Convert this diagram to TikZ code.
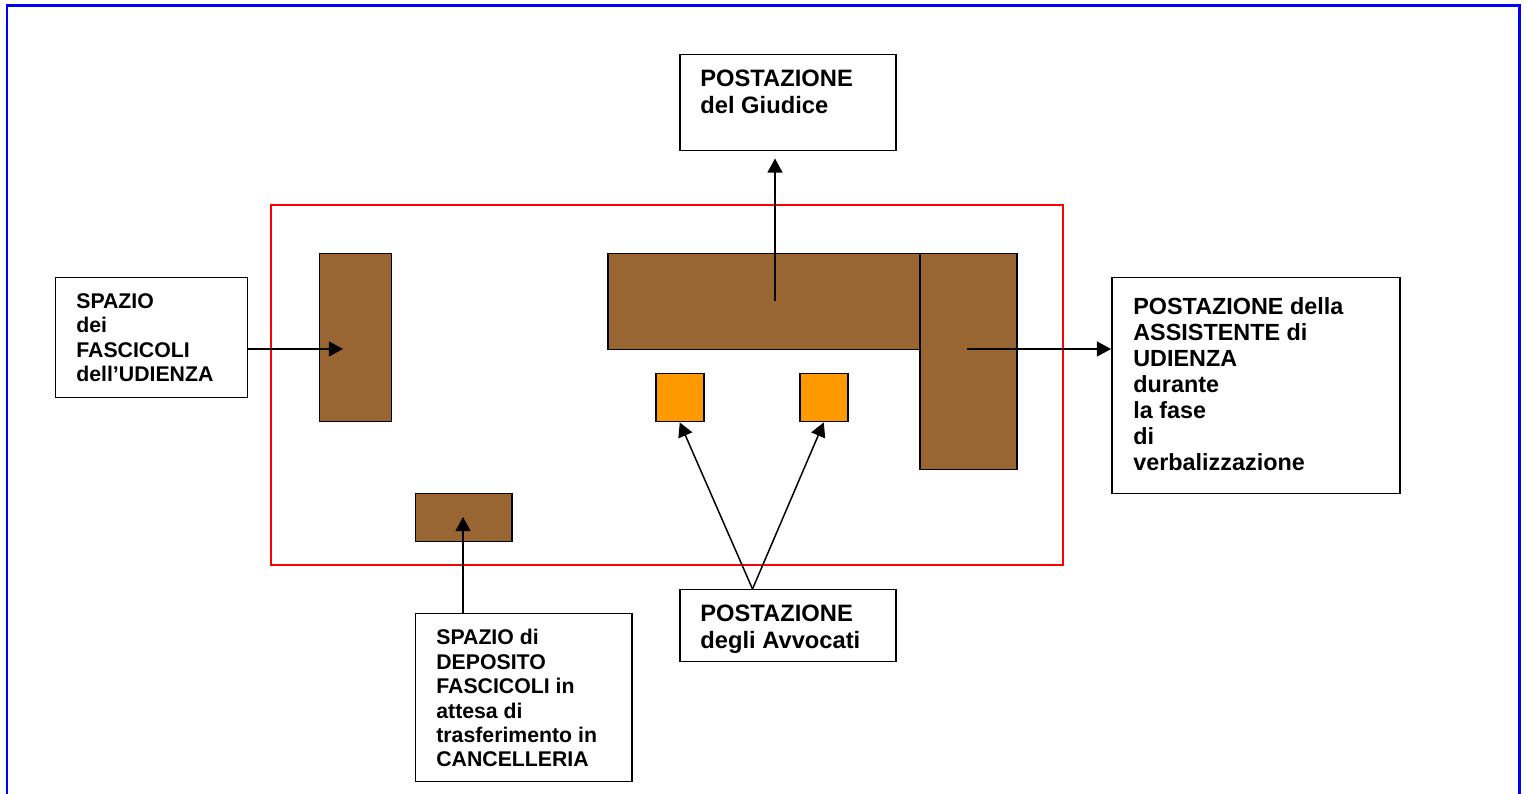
\documentclass[tikz,border=0pt]{standalone}
\usepackage{fontspec}
\setmainfont{Liberation Sans}
\usepackage{xcolor}
\usepackage{tikz}
\usetikzlibrary{positioning}
\usetikzlibrary{arrows.meta}
\definecolor{deskbrown}{RGB}{153,102,51}
\definecolor{seatorange}{RGB}{255,153,0}

\begin{document}
\begin{tikzpicture}
  [
    desk/.style={
       draw=black,
       fill=deskbrown,
       line width=0.85pt,
       inner sep=0pt,
       anchor=north west
    },
    seat/.style={
       draw=black,
       fill=seatorange,
       line width=0.85pt,
       inner sep=0pt,
       anchor=north west,
       minimum width=0.96cm,
       minimum height=0.96cm
    },
    lbl/.style={
       draw=black,
       fill=white,
       line width=0.85pt,
       inner sep=0pt,
       anchor=north west
    },
    txt/.style={
       inner sep=0pt,
       anchor=north west,
       align=left,
       font=\bfseries\fontsize{12.1pt}{13.9pt}\selectfont
    },
    big/.style={
       font=\bfseries\fontsize{13.5pt}{15.4pt}\selectfont
    },
    ld/.style={
       draw=black,
       line width=0.85pt,
       -{Triangle[length=8pt,width=8.5pt]}
    }
  ]
  \useasboundingbox (0,0) rectangle (30.54,15.88);

  % frame and room
  \draw [blue, line width=1.7pt] (0.14,-0.5) |- (30.38,15.76) -- (30.38,-0.5);
  \draw [red, line width=0.85pt] (5.42,4.58) rectangle (21.26,11.78);

  % furniture
  \node (deskL)   at ( 6.38,10.82) [desk, minimum width=1.44cm, minimum height=3.36cm] {};
  \node (deskTop) at (12.14,10.82) [desk, minimum width=6.26cm, minimum height=1.92cm] {};
  \node (deskR)   at (18.38,10.82) [desk, minimum width=1.94cm, minimum height=4.32cm] {};
  \node (deskS)   at ( 8.30, 6.02) [desk, minimum width=1.92cm, minimum height=0.96cm] {};
  \node (seatA)   at (13.10, 8.42) [seat] {};
  \node (seatB)   at (15.98, 8.42) [seat] {};

  % label boxes
  \node (giudice)    at (13.58,14.80) [lbl, minimum width=4.32cm, minimum height=1.92cm] {};
  \node (fascicoli)  at ( 1.10,10.34) [lbl, minimum width=3.84cm, minimum height=2.40cm] {};
  \node (assistente) at (22.22,10.34) [lbl, minimum width=5.76cm, minimum height=4.32cm] {};
  \node (deposito)   at ( 8.30, 3.62) [lbl, minimum width=4.32cm, minimum height=3.36cm] {};
  \node (avvocati)   at (13.58, 4.10) [lbl, minimum width=4.32cm, minimum height=1.44cm] {};

  \node (giudiceT)    at (14.00,14.48) [txt, big] {POSTAZIONE\\del Giudice};
  \node (fascicoliT)  at ( 1.52,10.02) [txt] {SPAZIO\\dei\\FASCICOLI\\dell’UDIENZA};
  \node (assistenteT) at (22.66, 9.94) [txt, font=\bfseries\fontsize{13.3pt}{14.8pt}\selectfont]
        {POSTAZIONE della\\ASSISTENTE di\\UDIENZA\\durante\\la fase\\di\\verbalizzazione};
  \node (depositoT)   at ( 8.72, 3.30) [txt]
        {SPAZIO di\\DEPOSITO\\FASCICOLI in\\attesa di\\trasferimento in\\CANCELLERIA};
  \node (avvocatiT)   at (14.00, 3.78) [txt, big] {POSTAZIONE\\degli Avvocati};

  % arrows
  \coordinate (fascTip)    at ( 6.86,8.90);
  \coordinate (judgeTail)  at (15.50,9.86);
  \coordinate (assistTail) at (19.34,8.90);
  \coordinate (depTip)     at ( 9.26,5.54);
  \coordinate (avvFoot)    at (15.05,4.10);

  \draw [ld] (fascicoli.east |- fascTip) -- (fascTip);
  \draw [ld, shorten >=0.14cm] (judgeTail) -- (judgeTail |- giudice.south);
  \draw [ld] (assistTail) -- (assistTail -| assistente.west);
  \draw [ld] (depTip |- deposito.north) -- (depTip);
  \draw [ld] (avvFoot) -- (seatA.south);
  \draw [ld] (avvFoot) -- (seatB.south);
\end{tikzpicture}
\end{document}
